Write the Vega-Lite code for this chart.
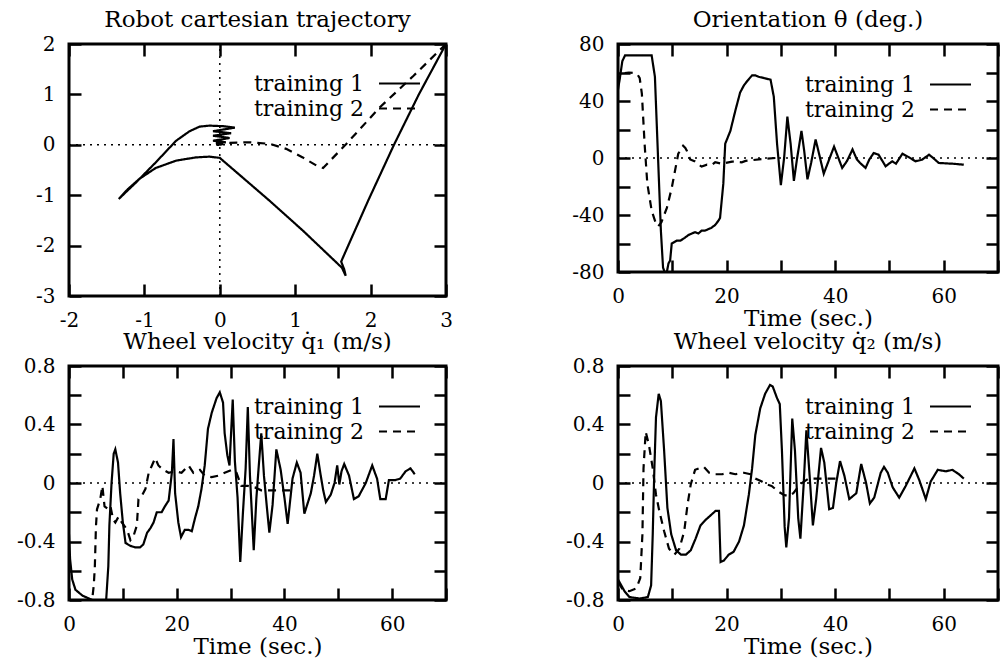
{
  "$schema": "https://vega.github.io/schema/vega-lite/v6.json",
  "background": "white",
  "padding": {"left": 14, "top": 7, "right": 4, "bottom": 2},
  "columns": 2,
  "align": "each",
  "spacing": {"row": -3, "column": 109},
  "resolve": {"scale": {"strokeDash": "independent"}, "legend": {"strokeDash": "independent"}},
  "datasets": {
    "traj": [
      {"s":"training 1","i":1,"x":3.0,"y":2.0},{"s":"training 1","i":2,"x":2.64,"y":1.0},{"s":"training 1","i":3,"x":2.31,"y":0.0},{"s":"training 1","i":4,"x":1.97,"y":-1.1},{"s":"training 1","i":5,"x":1.635,"y":-2.23},{"s":"training 1","i":6,"x":1.61,"y":-2.32},{"s":"training 1","i":7,"x":1.65,"y":-2.47},{"s":"training 1","i":8,"x":1.67,"y":-2.6},{"s":"training 1","i":9,"x":1.62,"y":-2.44},{"s":"training 1","i":10,"x":1.55,"y":-2.34},{"s":"training 1","i":11,"x":1.1,"y":-1.7},{"s":"training 1","i":12,"x":0.66,"y":-1.11},{"s":"training 1","i":13,"x":0.35,"y":-0.71},{"s":"training 1","i":14,"x":0.0,"y":-0.26},{"s":"training 1","i":15,"x":-0.14,"y":-0.235},{"s":"training 1","i":16,"x":-0.32,"y":-0.25},{"s":"training 1","i":17,"x":-0.58,"y":-0.315},{"s":"training 1","i":18,"x":-0.85,"y":-0.46},{"s":"training 1","i":19,"x":-1.07,"y":-0.68},{"s":"training 1","i":20,"x":-1.22,"y":-0.88},{"s":"training 1","i":21,"x":-1.34,"y":-1.075},{"s":"training 1","i":22,"x":-1.11,"y":-0.745},{"s":"training 1","i":23,"x":-0.85,"y":-0.35},{"s":"training 1","i":24,"x":-0.58,"y":0.08},{"s":"training 1","i":25,"x":-0.4,"y":0.27},{"s":"training 1","i":26,"x":-0.27,"y":0.36},{"s":"training 1","i":27,"x":-0.14,"y":0.38},{"s":"training 1","i":28,"x":0.04,"y":0.37},{"s":"training 1","i":29,"x":0.2,"y":0.34},{"s":"training 1","i":30,"x":-0.09,"y":0.27},{"s":"training 1","i":31,"x":0.15,"y":0.23},{"s":"training 1","i":32,"x":-0.09,"y":0.18},{"s":"training 1","i":33,"x":0.13,"y":0.135},{"s":"training 1","i":34,"x":-0.09,"y":0.08},{"s":"training 1","i":35,"x":0.08,"y":0.05},{"s":"training 1","i":36,"x":-0.05,"y":0.03},{"s":"training 1","i":37,"x":0.04,"y":0.015},{"s":"training 1","i":38,"x":0.0,"y":0.0},
      {"s":"training 2","i":1,"x":3.0,"y":2.0},{"s":"training 2","i":2,"x":2.57,"y":1.37},{"s":"training 2","i":3,"x":2.12,"y":0.74},{"s":"training 2","i":4,"x":1.68,"y":0.02},{"s":"training 2","i":5,"x":1.37,"y":-0.46},{"s":"training 2","i":6,"x":1.28,"y":-0.41},{"s":"training 2","i":7,"x":1.1,"y":-0.25},{"s":"training 2","i":8,"x":0.88,"y":-0.08},{"s":"training 2","i":9,"x":0.66,"y":0.02},{"s":"training 2","i":10,"x":0.39,"y":0.05},{"s":"training 2","i":11,"x":0.13,"y":0.04},{"s":"training 2","i":12,"x":0.02,"y":0.05},{"s":"training 2","i":13,"x":-0.05,"y":0.02},{"s":"training 2","i":14,"x":0.03,"y":0.03},{"s":"training 2","i":15,"x":-0.04,"y":0.0},{"s":"training 2","i":16,"x":0.0,"y":0.0}
    ],
    "theta": [
      {"s":"training 1","t":0,"v":48},{"s":"training 1","t":0.3,"v":55},{"s":"training 1","t":0.8,"v":68},{"s":"training 1","t":1.3,"v":72},{"s":"training 1","t":3,"v":72},{"s":"training 1","t":5,"v":72},{"s":"training 1","t":6.2,"v":72},{"s":"training 1","t":6.8,"v":57},{"s":"training 1","t":7.4,"v":-2},{"s":"training 1","t":7.9,"v":-51},{"s":"training 1","t":8.3,"v":-77},{"s":"training 1","t":8.6,"v":-80},{"s":"training 1","t":9.0,"v":-80},{"s":"training 1","t":9.3,"v":-74},{"s":"training 1","t":9.6,"v":-72},{"s":"training 1","t":9.9,"v":-60},{"s":"training 1","t":10.8,"v":-58},{"s":"training 1","t":11.5,"v":-58},{"s":"training 1","t":12.3,"v":-56},{"s":"training 1","t":13,"v":-54},{"s":"training 1","t":13.6,"v":-53},{"s":"training 1","t":14.2,"v":-52},{"s":"training 1","t":14.8,"v":-53},{"s":"training 1","t":15.4,"v":-51},{"s":"training 1","t":16,"v":-51},{"s":"training 1","t":16.6,"v":-50},{"s":"training 1","t":17.2,"v":-49},{"s":"training 1","t":17.9,"v":-47},{"s":"training 1","t":18.5,"v":-44},{"s":"training 1","t":18.8,"v":-42},{"s":"training 1","t":19.4,"v":-18},{"s":"training 1","t":19.75,"v":10},{"s":"training 1","t":20.7,"v":19},{"s":"training 1","t":21.6,"v":33},{"s":"training 1","t":22.5,"v":46},{"s":"training 1","t":23.2,"v":51},{"s":"training 1","t":23.8,"v":54},{"s":"training 1","t":24.7,"v":58},{"s":"training 1","t":25.3,"v":58},{"s":"training 1","t":25.9,"v":57},{"s":"training 1","t":27,"v":56},{"s":"training 1","t":28.1,"v":55},{"s":"training 1","t":28.7,"v":43},{"s":"training 1","t":29.3,"v":10},{"s":"training 1","t":30.0,"v":-19},{"s":"training 1","t":30.6,"v":0},{"s":"training 1","t":31.2,"v":29},{"s":"training 1","t":31.8,"v":10},{"s":"training 1","t":32.4,"v":-16},{"s":"training 1","t":33.0,"v":0},{"s":"training 1","t":33.8,"v":19},{"s":"training 1","t":34.3,"v":5},{"s":"training 1","t":34.9,"v":-15},{"s":"training 1","t":35.6,"v":-3},{"s":"training 1","t":36.4,"v":13},{"s":"training 1","t":37.1,"v":2},{"s":"training 1","t":37.9,"v":-11},{"s":"training 1","t":38.8,"v":-2},{"s":"training 1","t":39.8,"v":8},{"s":"training 1","t":40.5,"v":1},{"s":"training 1","t":41.3,"v":-7},{"s":"training 1","t":42.2,"v":-2},{"s":"training 1","t":43.2,"v":6},{"s":"training 1","t":44,"v":-1},{"s":"training 1","t":44.6,"v":-3.5},{"s":"training 1","t":45.6,"v":-7},{"s":"training 1","t":46.3,"v":-1},{"s":"training 1","t":47.1,"v":3.5},{"s":"training 1","t":48,"v":2.3},{"s":"training 1","t":49.3,"v":-5.8},{"s":"training 1","t":50.5,"v":-2.3},{"s":"training 1","t":51.2,"v":-4},{"s":"training 1","t":52.4,"v":3},{"s":"training 1","t":53.6,"v":0.5},{"s":"training 1","t":54.8,"v":-2.3},{"s":"training 1","t":56,"v":-1.2},{"s":"training 1","t":57.3,"v":2.3},{"s":"training 1","t":57.9,"v":0.5},{"s":"training 1","t":59.1,"v":-3.5},{"s":"training 1","t":61.6,"v":-4},{"s":"training 1","t":63.7,"v":-4.7},
      {"s":"training 2","t":0,"v":52},{"s":"training 2","t":0.3,"v":57},{"s":"training 2","t":0.9,"v":59.5},{"s":"training 2","t":2,"v":60},{"s":"training 2","t":3.1,"v":59.5},{"s":"training 2","t":3.6,"v":58.5},{"s":"training 2","t":4,"v":56},{"s":"training 2","t":4.4,"v":45},{"s":"training 2","t":4.9,"v":10},{"s":"training 2","t":5.4,"v":-18},{"s":"training 2","t":6.2,"v":-37},{"s":"training 2","t":6.9,"v":-45},{"s":"training 2","t":7.4,"v":-48},{"s":"training 2","t":8,"v":-45},{"s":"training 2","t":9,"v":-35},{"s":"training 2","t":9.9,"v":-21},{"s":"training 2","t":10.5,"v":-9},{"s":"training 2","t":11.1,"v":3},{"s":"training 2","t":12,"v":8.6},{"s":"training 2","t":12.4,"v":7},{"s":"training 2","t":12.7,"v":5},{"s":"training 2","t":13.3,"v":-1},{"s":"training 2","t":14.2,"v":-2.5},{"s":"training 2","t":15,"v":-5},{"s":"training 2","t":15.4,"v":-6},{"s":"training 2","t":16.4,"v":-4.7},{"s":"training 2","t":17.2,"v":-5},{"s":"training 2","t":17.9,"v":-3},{"s":"training 2","t":19.1,"v":-4},{"s":"training 2","t":21,"v":-2.5},{"s":"training 2","t":22.8,"v":-3},{"s":"training 2","t":23.5,"v":-2},{"s":"training 2","t":24.7,"v":-1.5},{"s":"training 2","t":26.5,"v":-0.7},{"s":"training 2","t":29,"v":0}
    ],
    "q1": [
      {"s":"training 1","t":0,"v":-0.35},{"s":"training 1","t":0.2,"v":-0.52},{"s":"training 1","t":0.6,"v":-0.66},{"s":"training 1","t":1.2,"v":-0.73},{"s":"training 1","t":2.5,"v":-0.77},{"s":"training 1","t":4.3,"v":-0.8},{"s":"training 1","t":6.9,"v":-0.8},{"s":"training 1","t":7.3,"v":-0.57},{"s":"training 1","t":7.5,"v":-0.29},{"s":"training 1","t":7.9,"v":0.0},{"s":"training 1","t":8.3,"v":0.2},{"s":"training 1","t":8.6,"v":0.23},{"s":"training 1","t":9.1,"v":0.14},{"s":"training 1","t":9.5,"v":-0.07},{"s":"training 1","t":10,"v":-0.27},{"s":"training 1","t":10.5,"v":-0.41},{"s":"training 1","t":11.4,"v":-0.43},{"s":"training 1","t":12.3,"v":-0.44},{"s":"training 1","t":13.2,"v":-0.44},{"s":"training 1","t":13.8,"v":-0.42},{"s":"training 1","t":14.5,"v":-0.34},{"s":"training 1","t":15.1,"v":-0.31},{"s":"training 1","t":15.7,"v":-0.27},{"s":"training 1","t":16.3,"v":-0.2},{"s":"training 1","t":17.2,"v":-0.2},{"s":"training 1","t":17.8,"v":-0.16},{"s":"training 1","t":18.5,"v":-0.12},{"s":"training 1","t":19.1,"v":0.07},{"s":"training 1","t":19.4,"v":0.3},{"s":"training 1","t":19.7,"v":-0.07},{"s":"training 1","t":20.3,"v":-0.27},{"s":"training 1","t":20.8,"v":-0.37},{"s":"training 1","t":21.5,"v":-0.32},{"s":"training 1","t":22.2,"v":-0.32},{"s":"training 1","t":22.8,"v":-0.33},{"s":"training 1","t":23.4,"v":-0.24},{"s":"training 1","t":24,"v":-0.16},{"s":"training 1","t":24.6,"v":-0.04},{"s":"training 1","t":25.2,"v":0.12},{"s":"training 1","t":25.8,"v":0.37},{"s":"training 1","t":26.5,"v":0.48},{"s":"training 1","t":27.4,"v":0.58},{"s":"training 1","t":28,"v":0.62},{"s":"training 1","t":28.6,"v":0.55},{"s":"training 1","t":28.9,"v":0.34},{"s":"training 1","t":29.4,"v":0.19},{"s":"training 1","t":29.8,"v":0.12},{"s":"training 1","t":30.4,"v":0.57},{"s":"training 1","t":30.8,"v":0.15},{"s":"training 1","t":31.3,"v":-0.1},{"s":"training 1","t":31.8,"v":-0.54},{"s":"training 1","t":32.3,"v":-0.2},{"s":"training 1","t":32.8,"v":0.1},{"s":"training 1","t":33.2,"v":0.52},{"s":"training 1","t":33.6,"v":0.05},{"s":"training 1","t":34.3,"v":-0.46},{"s":"training 1","t":34.8,"v":-0.1},{"s":"training 1","t":35.2,"v":0.1},{"s":"training 1","t":35.7,"v":0.34},{"s":"training 1","t":36.2,"v":0.05},{"s":"training 1","t":36.7,"v":-0.15},{"s":"training 1","t":37.2,"v":-0.34},{"s":"training 1","t":37.8,"v":-0.15},{"s":"training 1","t":38.5,"v":0.23},{"s":"training 1","t":39.3,"v":0.09},{"s":"training 1","t":40,"v":-0.1},{"s":"training 1","t":40.6,"v":-0.28},{"s":"training 1","t":41.5,"v":0.03},{"s":"training 1","t":42.3,"v":0.14},{"s":"training 1","t":43,"v":0.07},{"s":"training 1","t":43.7,"v":-0.21},{"s":"training 1","t":44.9,"v":-0.07},{"s":"training 1","t":45.5,"v":0.05},{"s":"training 1","t":46.1,"v":0.2},{"s":"training 1","t":46.7,"v":0.06},{"s":"training 1","t":47.2,"v":-0.05},{"s":"training 1","t":47.7,"v":-0.13},{"s":"training 1","t":48.6,"v":-0.08},{"s":"training 1","t":49.3,"v":0.0},{"s":"training 1","t":49.8,"v":0.12},{"s":"training 1","t":50.2,"v":-0.01},{"s":"training 1","t":50.6,"v":0.08},{"s":"training 1","t":51.1,"v":0.13},{"s":"training 1","t":52,"v":0.05},{"s":"training 1","t":52.9,"v":-0.11},{"s":"training 1","t":53.8,"v":-0.09},{"s":"training 1","t":55.1,"v":0.0},{"s":"training 1","t":55.7,"v":0.06},{"s":"training 1","t":56.3,"v":0.12},{"s":"training 1","t":57.2,"v":0.03},{"s":"training 1","t":57.8,"v":-0.11},{"s":"training 1","t":58.8,"v":-0.11},{"s":"training 1","t":59.4,"v":0.02},{"s":"training 1","t":60.6,"v":0.02},{"s":"training 1","t":61.5,"v":0.03},{"s":"training 1","t":62.5,"v":0.08},{"s":"training 1","t":63.4,"v":0.1},{"s":"training 1","t":64.2,"v":0.06},
      {"s":"training 2","t":0,"v":-0.8},{"s":"training 2","t":4.3,"v":-0.8},{"s":"training 2","t":4.6,"v":-0.7},{"s":"training 2","t":4.8,"v":-0.57},{"s":"training 2","t":5.0,"v":-0.3},{"s":"training 2","t":5.2,"v":-0.18},{"s":"training 2","t":5.8,"v":-0.11},{"s":"training 2","t":6.2,"v":-0.02},{"s":"training 2","t":6.6,"v":-0.16},{"s":"training 2","t":7.3,"v":-0.18},{"s":"training 2","t":7.7,"v":-0.16},{"s":"training 2","t":8.2,"v":-0.25},{"s":"training 2","t":8.6,"v":-0.27},{"s":"training 2","t":9.2,"v":-0.23},{"s":"training 2","t":9.8,"v":-0.27},{"s":"training 2","t":10.8,"v":-0.32},{"s":"training 2","t":11.4,"v":-0.39},{"s":"training 2","t":12,"v":-0.36},{"s":"training 2","t":12.6,"v":-0.29},{"s":"training 2","t":12.9,"v":-0.11},{"s":"training 2","t":13.5,"v":-0.09},{"s":"training 2","t":14.2,"v":-0.04},{"s":"training 2","t":14.8,"v":0.07},{"s":"training 2","t":15.4,"v":0.12},{"s":"training 2","t":16,"v":0.17},{"s":"training 2","t":16.6,"v":0.12},{"s":"training 2","t":17.5,"v":0.09},{"s":"training 2","t":18.5,"v":0.07},{"s":"training 2","t":19.7,"v":0.08},{"s":"training 2","t":20.9,"v":0.07},{"s":"training 2","t":22.2,"v":0.12},{"s":"training 2","t":23.1,"v":0.07},{"s":"training 2","t":24.3,"v":0.09},{"s":"training 2","t":25.2,"v":0.05},{"s":"training 2","t":26.5,"v":0.04},{"s":"training 2","t":27.7,"v":0.05},{"s":"training 2","t":28.9,"v":0.07},{"s":"training 2","t":30.2,"v":0.09},{"s":"training 2","t":31.1,"v":0.07},{"s":"training 2","t":32,"v":-0.02},{"s":"training 2","t":33.2,"v":-0.02},{"s":"training 2","t":34.5,"v":-0.03},{"s":"training 2","t":35.7,"v":-0.05},{"s":"training 2","t":38,"v":-0.05},{"s":"training 2","t":42,"v":-0.05}
    ],
    "q2": [
      {"s":"training 1","t":0,"v":-0.66},{"s":"training 1","t":0.6,"v":-0.7},{"s":"training 1","t":1.2,"v":-0.74},{"s":"training 1","t":2.1,"v":-0.78},{"s":"training 1","t":4,"v":-0.79},{"s":"training 1","t":5.5,"v":-0.78},{"s":"training 1","t":6.1,"v":-0.7},{"s":"training 1","t":6.4,"v":-0.35},{"s":"training 1","t":6.7,"v":0.1},{"s":"training 1","t":7,"v":0.45},{"s":"training 1","t":7.5,"v":0.61},{"s":"training 1","t":7.9,"v":0.56},{"s":"training 1","t":8.5,"v":0.22},{"s":"training 1","t":9.1,"v":-0.17},{"s":"training 1","t":9.8,"v":-0.35},{"s":"training 1","t":10.7,"v":-0.46},{"s":"training 1","t":11.6,"v":-0.49},{"s":"training 1","t":12.5,"v":-0.49},{"s":"training 1","t":13.4,"v":-0.46},{"s":"training 1","t":14.3,"v":-0.38},{"s":"training 1","t":15.2,"v":-0.29},{"s":"training 1","t":16.2,"v":-0.25},{"s":"training 1","t":17.1,"v":-0.22},{"s":"training 1","t":18,"v":-0.19},{"s":"training 1","t":18.6,"v":-0.19},{"s":"training 1","t":18.9,"v":-0.54},{"s":"training 1","t":19.5,"v":-0.53},{"s":"training 1","t":20.4,"v":-0.49},{"s":"training 1","t":21.3,"v":-0.47},{"s":"training 1","t":22.3,"v":-0.4},{"s":"training 1","t":23.2,"v":-0.29},{"s":"training 1","t":24.1,"v":-0.08},{"s":"training 1","t":24.7,"v":0.1},{"s":"training 1","t":25.3,"v":0.33},{"s":"training 1","t":26.2,"v":0.51},{"s":"training 1","t":27.1,"v":0.61},{"s":"training 1","t":28,"v":0.67},{"s":"training 1","t":28.5,"v":0.66},{"s":"training 1","t":29.3,"v":0.58},{"s":"training 1","t":29.8,"v":0.54},{"s":"training 1","t":30.2,"v":0.22},{"s":"training 1","t":30.7,"v":-0.3},{"s":"training 1","t":31.0,"v":-0.44},{"s":"training 1","t":31.5,"v":-0.24},{"s":"training 1","t":31.9,"v":0.22},{"s":"training 1","t":32.1,"v":0.44},{"s":"training 1","t":32.6,"v":0.22},{"s":"training 1","t":33.2,"v":-0.24},{"s":"training 1","t":33.6,"v":-0.38},{"s":"training 1","t":34.2,"v":-0.01},{"s":"training 1","t":34.7,"v":0.36},{"s":"training 1","t":35.3,"v":0.05},{"s":"training 1","t":35.9,"v":-0.29},{"s":"training 1","t":36.5,"v":-0.11},{"s":"training 1","t":37.4,"v":0.24},{"s":"training 1","t":38,"v":0.14},{"s":"training 1","t":38.9,"v":-0.18},{"s":"training 1","t":39.6,"v":-0.17},{"s":"training 1","t":40.2,"v":0},{"s":"training 1","t":40.9,"v":0.15},{"s":"training 1","t":41.7,"v":0.05},{"s":"training 1","t":42.6,"v":-0.11},{"s":"training 1","t":43.9,"v":-0.07},{"s":"training 1","t":44.8,"v":0.13},{"s":"training 1","t":45.7,"v":0},{"s":"training 1","t":46.4,"v":-0.14},{"s":"training 1","t":47.2,"v":-0.1},{"s":"training 1","t":48.4,"v":0.07},{"s":"training 1","t":49,"v":0.11},{"s":"training 1","t":49.7,"v":0.07},{"s":"training 1","t":50.6,"v":-0.03},{"s":"training 1","t":51.8,"v":-0.1},{"s":"training 1","t":53,"v":-0.02},{"s":"training 1","t":54.6,"v":0.1},{"s":"training 1","t":55.5,"v":0.02},{"s":"training 1","t":56.7,"v":-0.11},{"s":"training 1","t":57.6,"v":0.01},{"s":"training 1","t":58.9,"v":0.09},{"s":"training 1","t":60.4,"v":0.08},{"s":"training 1","t":61.6,"v":0.09},{"s":"training 1","t":62.8,"v":0.06},{"s":"training 1","t":63.7,"v":0.03},
      {"s":"training 2","t":0,"v":-0.68},{"s":"training 2","t":0.4,"v":-0.7},{"s":"training 2","t":0.9,"v":-0.73},{"s":"training 2","t":2.1,"v":-0.74},{"s":"training 2","t":3.4,"v":-0.72},{"s":"training 2","t":4.1,"v":-0.65},{"s":"training 2","t":4.5,"v":-0.35},{"s":"training 2","t":4.7,"v":0.1},{"s":"training 2","t":5.1,"v":0.35},{"s":"training 2","t":5.7,"v":0.26},{"s":"training 2","t":6.4,"v":0.1},{"s":"training 2","t":7,"v":-0.08},{"s":"training 2","t":7.6,"v":-0.19},{"s":"training 2","t":8.5,"v":-0.33},{"s":"training 2","t":9.4,"v":-0.45},{"s":"training 2","t":10.4,"v":-0.49},{"s":"training 2","t":11.3,"v":-0.45},{"s":"training 2","t":12.2,"v":-0.33},{"s":"training 2","t":12.8,"v":-0.15},{"s":"training 2","t":13.4,"v":-0.01},{"s":"training 2","t":14.2,"v":0.09},{"s":"training 2","t":14.9,"v":0.1},{"s":"training 2","t":15.8,"v":0.11},{"s":"training 2","t":16.8,"v":0.07},{"s":"training 2","t":17.7,"v":0.06},{"s":"training 2","t":19.2,"v":0.06},{"s":"training 2","t":20.4,"v":0.07},{"s":"training 2","t":21.6,"v":0.06},{"s":"training 2","t":23.2,"v":0.07},{"s":"training 2","t":24.4,"v":0.06},{"s":"training 2","t":25.3,"v":0.03},{"s":"training 2","t":26.5,"v":0.01},{"s":"training 2","t":27.4,"v":-0.01},{"s":"training 2","t":28.3,"v":-0.02},{"s":"training 2","t":29.6,"v":-0.06},{"s":"training 2","t":30.5,"v":-0.08},{"s":"training 2","t":31.4,"v":-0.09},{"s":"training 2","t":32.3,"v":-0.07},{"s":"training 2","t":33.5,"v":-0.01},{"s":"training 2","t":35.1,"v":0.03},{"s":"training 2","t":38,"v":0.03},{"s":"training 2","t":41,"v":0.03}
    ]
  },
  "concat": [
    {
      "width": 377, "height": 252,
      "title": "Robot cartesian trajectory",
      "layer": [
        {
          "data": {"values": [{}]},
          "mark": {"type": "rule", "color": "black", "strokeDash": [2, 5], "strokeWidth": 1.5},
          "encoding": {
            "x": {"datum": -2, "type": "quantitative", "axis": {"orient": "top", "values": [-2,-1,0,1,2,3], "labels": false, "title": null}},
            "x2": {"datum": 3},
            "y": {"datum": 0, "type": "quantitative", "axis": {"orient": "right", "values": [-3,-2,-1,0,1,2], "labels": false, "title": null}}
          }
        },
        {
          "data": {"values": [{}]},
          "mark": {"type": "rule", "color": "black", "strokeDash": [2, 5], "strokeWidth": 1.5},
          "encoding": {
            "x": {"datum": 0, "type": "quantitative", "axis": null},
            "y": {"datum": -3, "type": "quantitative", "axis": null},
            "y2": {"datum": 2}
          }
        },
        {
          "data": {"name": "traj"},
          "mark": {"type": "line", "color": "black", "strokeWidth": 2.2, "clip": true},
          "encoding": {
            "x": {"field": "x", "type": "quantitative", "scale": {"domain": [-2, 3], "nice": false, "zero": false},
                  "axis": {"orient": "bottom", "values": [-2,-1,0,1,2,3], "title": null, "labelExpr": "replace(datum.label, '\u2212', '-')"}},
            "y": {"field": "y", "type": "quantitative", "scale": {"domain": [-3, 2], "nice": false, "zero": false},
                  "axis": {"orient": "left", "values": [-3,-2,-1,0,1,2], "title": null, "labelExpr": "replace(datum.label, '\u2212', '-')"}},
            "order": {"field": "i"},
            "strokeDash": {"field": "s", "type": "nominal", "scale": {"domain": ["training 1", "training 2"], "range": [[1, 0], [8, 6]]},
                           "legend": {"orient": "none", "legendX": 319, "legendY": 28}}
          }
        }
      ],
      "resolve": {"axis": {"x": "independent", "y": "independent"}}
    },
    {
      "width": 380, "height": 228,
      "title": "Orientation θ (deg.)",
      "layer": [
        {
          "data": {"values": [{}]},
          "mark": {"type": "rule", "color": "black", "strokeDash": [2, 5], "strokeWidth": 1.5},
          "encoding": {
            "x": {"datum": 0, "type": "quantitative", "axis": {"orient": "top", "values": [0,10,20,30,40,50,60,70], "labels": false, "title": null}},
            "x2": {"datum": 70},
            "y": {"datum": 0, "type": "quantitative", "axis": {"orient": "right", "values": [-80,-60,-40,-20,0,20,40,60,80], "labels": false, "title": null}}
          }
        },
        {
          "data": {"name": "theta"},
          "mark": {"type": "line", "color": "black", "strokeWidth": 2.2, "clip": true},
          "encoding": {
            "x": {"field": "t", "type": "quantitative", "scale": {"domain": [0, 70], "nice": false, "zero": false},
                  "axis": {"orient": "bottom", "values": [0,10,20,30,40,50,60,70], "title": "Time (sec.)", "labelExpr": "datum.value % 20 === 0 && datum.value < 70 ? datum.label : ''"}},
            "y": {"field": "v", "type": "quantitative", "scale": {"domain": [-80, 80], "nice": false, "zero": false},
                  "axis": {"orient": "left", "values": [-80,-60,-40,-20,0,20,40,60,80], "title": null, "labelExpr": "datum.value % 40 === 0 ? replace(datum.label, '\u2212', '-') : ''"}},
            "strokeDash": {"field": "s", "type": "nominal", "scale": {"domain": ["training 1", "training 2"], "range": [[1, 0], [8, 6]]},
                           "legend": {"orient": "none", "legendX": 321, "legendY": 29}}
          }
        }
      ],
      "resolve": {"axis": {"x": "independent", "y": "independent"}}
    },
    {
      "width": 377, "height": 234,
      "title": "Wheel velocity q̇₁ (m/s)",
      "layer": [
        {
          "data": {"values": [{}]},
          "mark": {"type": "rule", "color": "black", "strokeDash": [2, 5], "strokeWidth": 1.5},
          "encoding": {
            "x": {"datum": 0, "type": "quantitative", "axis": {"orient": "top", "values": [0,10,20,30,40,50,60,70], "labels": false, "title": null}},
            "x2": {"datum": 70},
            "y": {"datum": 0, "type": "quantitative", "axis": {"orient": "right", "values": [-0.8,-0.6,-0.4,-0.2,0,0.2,0.4,0.6,0.8], "labels": false, "title": null}}
          }
        },
        {
          "data": {"name": "q1"},
          "mark": {"type": "line", "color": "black", "strokeWidth": 2.2, "clip": true},
          "encoding": {
            "x": {"field": "t", "type": "quantitative", "scale": {"domain": [0, 70], "nice": false, "zero": false},
                  "axis": {"orient": "bottom", "values": [0,10,20,30,40,50,60,70], "title": "Time (sec.)", "labelExpr": "datum.value % 20 === 0 && datum.value < 70 ? datum.label : ''"}},
            "y": {"field": "v", "type": "quantitative", "scale": {"domain": [-0.8, 0.8], "nice": false, "zero": false},
                  "axis": {"orient": "left", "values": [-0.8,-0.6,-0.4,-0.2,0,0.2,0.4,0.6,0.8], "title": null, "labelExpr": "abs(round(datum.value * 10)) % 4 === 0 ? (abs(datum.value) < 0.01 ? '0' : replace(format(datum.value, '.1f'), '\u2212', '-')) : ''"}},
            "strokeDash": {"field": "s", "type": "nominal", "scale": {"domain": ["training 1", "training 2"], "range": [[1, 0], [8, 6]]},
                           "legend": {"orient": "none", "legendX": 319, "legendY": 29}}
          }
        }
      ],
      "resolve": {"axis": {"x": "independent", "y": "independent"}}
    },
    {
      "width": 380, "height": 234,
      "title": "Wheel velocity q̇₂ (m/s)",
      "layer": [
        {
          "data": {"values": [{}]},
          "mark": {"type": "rule", "color": "black", "strokeDash": [2, 5], "strokeWidth": 1.5},
          "encoding": {
            "x": {"datum": 0, "type": "quantitative", "axis": {"orient": "top", "values": [0,10,20,30,40,50,60,70], "labels": false, "title": null}},
            "x2": {"datum": 70},
            "y": {"datum": 0, "type": "quantitative", "axis": {"orient": "right", "values": [-0.8,-0.6,-0.4,-0.2,0,0.2,0.4,0.6,0.8], "labels": false, "title": null}}
          }
        },
        {
          "data": {"name": "q2"},
          "mark": {"type": "line", "color": "black", "strokeWidth": 2.2, "clip": true},
          "encoding": {
            "x": {"field": "t", "type": "quantitative", "scale": {"domain": [0, 70], "nice": false, "zero": false},
                  "axis": {"orient": "bottom", "values": [0,10,20,30,40,50,60,70], "title": "Time (sec.)", "labelExpr": "datum.value % 20 === 0 && datum.value < 70 ? datum.label : ''"}},
            "y": {"field": "v", "type": "quantitative", "scale": {"domain": [-0.8, 0.8], "nice": false, "zero": false},
                  "axis": {"orient": "left", "values": [-0.8,-0.6,-0.4,-0.2,0,0.2,0.4,0.6,0.8], "title": null, "labelExpr": "abs(round(datum.value * 10)) % 4 === 0 ? (abs(datum.value) < 0.01 ? '0' : replace(format(datum.value, '.1f'), '\u2212', '-')) : ''"}},
            "strokeDash": {"field": "s", "type": "nominal", "scale": {"domain": ["training 1", "training 2"], "range": [[1, 0], [8, 6]]},
                           "legend": {"orient": "none", "legendX": 321, "legendY": 29}}
          }
        }
      ],
      "resolve": {"axis": {"x": "independent", "y": "independent"}}
    }
  ],
  "config": {
    "font": "DejaVu Serif",
    "view": {"stroke": "black", "strokeWidth": 3},
    "axis": {
      "domain": false, "grid": false,
      "ticks": true, "tickColor": "black", "tickWidth": 2.5, "tickSize": -12,
      "labelFont": "DejaVu Serif", "labelFontSize": 20, "labelColor": "black", "labelPadding": 26,
      "labelFlush": false, "labelOverlap": false, "labelBound": false,
      "titleFont": "DejaVu Serif", "titleFontSize": 23, "titleFontWeight": "normal", "titleColor": "black", "titlePadding": 1
    },
    "title": {"font": "DejaVu Serif", "fontSize": 23, "fontWeight": "normal", "color": "black", "offset": 2, "anchor": "middle"},
    "legend": {
      "title": null, "padding": 0, "symbolType": "M-2,0H2", "symbolSize": 420, "symbolStrokeWidth": 2,
      "symbolStrokeColor": "black", "symbolFillColor": "transparent", "labelAlign": "right", "labelOffset": -47,
      "labelFont": "DejaVu Serif", "labelFontSize": 22, "labelColor": "black", "labelLimit": 400,
      "rowPadding": 2
    }
  }
}
